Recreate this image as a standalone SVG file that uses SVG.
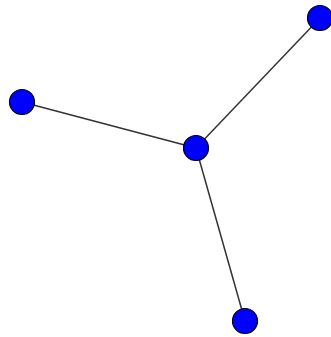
<svg xmlns="http://www.w3.org/2000/svg" width="331" height="337" viewBox="0 0 331 337">
<style>
.node{fill:#0000ff;stroke:#000;stroke-width:1.2}
.edge{stroke:#333;stroke-width:1.5;fill:none}
</style>
<rect width="331" height="337" fill="#fff"/>
<g id="edges">
<line class="edge" x1="196" y1="148" x2="320" y2="18"/>
<line class="edge" x1="196" y1="148" x2="22" y2="102"/>
<line class="edge" x1="196" y1="148" x2="245" y2="321"/>
</g>
<g id="n0"><circle class="node" cx="196" cy="148" r="12.5"/></g>
<g id="n1"><circle class="node" cx="320" cy="18" r="12.5"/></g>
<g id="n2"><circle class="node" cx="22" cy="102" r="12.5"/></g>
<g id="n3"><circle class="node" cx="245" cy="321" r="12.5"/></g>
</svg>
